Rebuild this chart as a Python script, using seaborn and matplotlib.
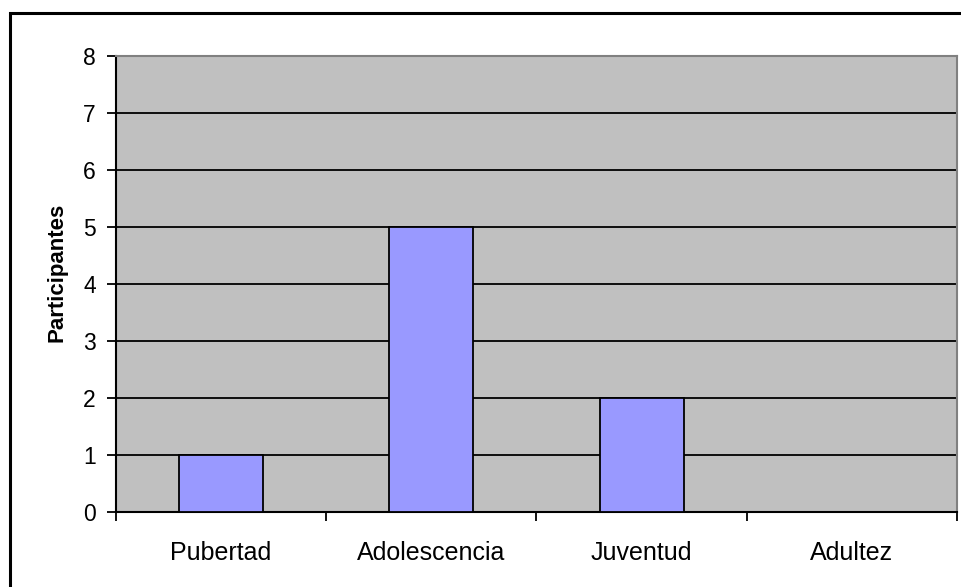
import pandas as pd
import seaborn as sns
import matplotlib.pyplot as plt
from matplotlib.patches import Rectangle

# Datos
etapas = ["Pubertad", "Adolescencia", "Juventud", "Adultez"]
participantes = [1, 5, 2, 0]
y_ticks = [0, 1, 2, 3, 4, 5, 6, 7, 8]

df = pd.DataFrame({"etapa": etapas, "participantes": participantes})

sns.set_style("white")
plt.rcParams["font.family"] = ["Liberation Sans", "DejaVu Sans"]
plt.rcParams["text.color"] = "black"
plt.rcParams["xtick.color"] = "black"
plt.rcParams["ytick.color"] = "black"
plt.rcParams["axes.labelcolor"] = "black"

fig = plt.figure(figsize=(9.62, 5.87), dpi=100)
ax = fig.add_axes([116 / 962, 1 - 512 / 587, 841 / 962, 456 / 587])

sns.barplot(
    data=df,
    x="etapa",
    y="participantes",
    order=etapas,
    color="#9999FF",
    saturation=1,
    width=0.4,
    edgecolor="black",
    linewidth=1.3,
    ax=ax,
    zorder=3,
)

ax.set_facecolor("#C0C0C0")
ax.set_xlim(-0.5, len(etapas) - 0.5)
ax.set_ylim(0, 8)
ax.set_yticks(y_ticks)
ax.yaxis.grid(True, color="black", linewidth=1.3, zorder=1)
ax.set_axisbelow(True)

# Marcas del eje X entre categorias
ax.set_xticks([i - 0.5 for i in range(len(etapas) + 1)], minor=True)
ax.tick_params(axis="x", which="minor", length=6.5, width=1.3, direction="out", bottom=True)
ax.tick_params(axis="x", which="major", length=0, labelsize=18, pad=21)
ax.tick_params(axis="y", length=6.5, width=1.3, direction="out", left=True, labelsize=16.5, pad=8)

for side in ["left", "bottom"]:
    ax.spines[side].set_color("black")
    ax.spines[side].set_linewidth(1.5)
for side in ["top", "right"]:
    ax.spines[side].set_color("#808080")
    ax.spines[side].set_linewidth(1.5)

ax.set_xlabel("")
ax.set_ylabel("Participantes", fontsize=16, fontweight="bold")
ax.yaxis.set_label_coords(-0.058, 0.525)

# Marco exterior del grafico
fig.patches.append(Rectangle((10 / 962, -0.1), 1.2, 1 - 13 / 587 + 0.1,
                             transform=fig.transFigure, fill=False,
                             edgecolor="black", linewidth=2.2))

plt.savefig("out.png", dpi=100)
